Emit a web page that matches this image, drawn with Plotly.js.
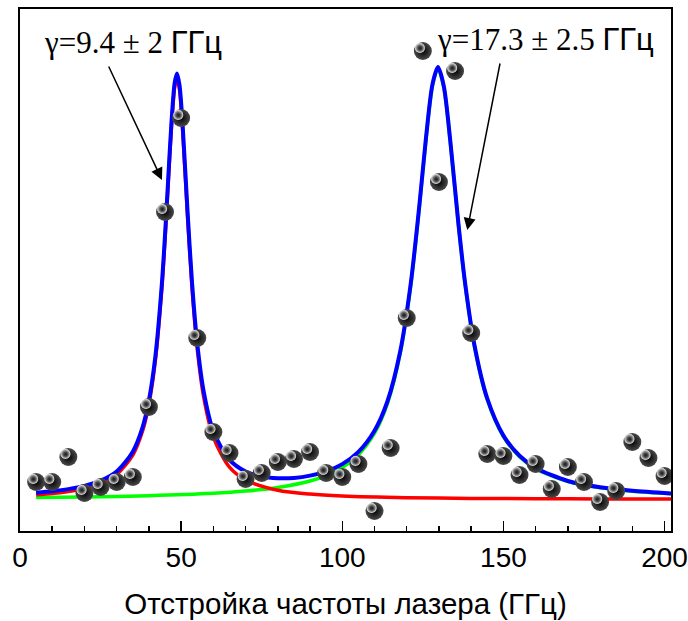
<!DOCTYPE html>
<html>
<head>
<meta charset="utf-8">
<script src="https://cdn.plot.ly/plotly-3.0.1.min.js"></script>
<style>html,body{margin:0;padding:0;background:#fff;}#chart{width:688px;height:621px;}</style>
</head>
<body>
<div id="chart"></div>
<script>
// Measured points (detuning, GHz ; signal, arb. units)
const detuning = [5,10,15,20,25,30,35,40,45,50,55,60,65,70,75,80,85,90,95,100,105,110,115,120,125,130,135,140,145,150,155,160,165,170,175,180,185,190,195,200];
const signal   = [49,49,74,38,44,49,54,124,319,413,193,99,78,52,58,69,72,79,58,54,67,20,83,213,480,349,460,198,77,75,56,67,42,64,49,29,40,89,73,55];

// Fit curve: red (first peak)
const redX = [5,10,15,20,25,30,35,38,40,42,44,45,46,47,48,48.7,49.5,50.5,52,53.4,55,57,60,65,70,80,90,100,120,140,160,180,202];
const redY = [36.3,37.6,39.5,42.5,47.4,56.5,75.9,99.7,126.7,170.5,242.2,291.7,348.4,404.2,443.8,453,441.1,399.1,313.8,242.2,182.2,133.8,93.6,63.9,51.1,40.8,36.9,35,33.3,32.6,32.3,32,31.9];

// Fit curve: green (second peak)
const greenX = [5,20,40,60,70,80,90,95,100,105,110,114,118,121.3,124,126,128,129.7,131.5,133.5,136,138.1,141,145,150,155,160,170,180,190,202];
const greenY = [33.4,34.0,35.3,37.7,39.9,43.5,50,55.4,63.4,76.2,97.8,127.4,178.1,247,326.6,392.5,445.5,462.5,443.6,389.3,307.3,247,184.9,131.3,94.5,74.3,62.3,49.4,43.2,39.7,37.2];

// Fit curve: blue (sum)
const blueX = [5,10,15,20,25,30,35,38,40,42,44,45,46,47,48,48.7,49.5,50.5,52,53.4,55,57,60,65,70,75,80,85,90,95,100,105,110,114,118,121.3,124,126,128,129.7,131.5,133.5,136,138.1,141,145,150,155,160,170,180,190,202];
const blueY = [38.3,39.8,41.9,45.1,50.3,59.5,79.3,103.3,130.5,174.4,246.3,295.9,352.7,408.6,448.3,457.6,445.8,403.9,318.8,247.4,187.6,139.5,99.8,71.1,59.5,54.4,52.8,53.1,55.4,59.7,66.9,79.1,100.3,129.5,180,248.8,328.2,394,446.9,463.9,444.9,390.6,308.5,248.2,186,132.3,95.4,75.2,63.1,50,43.7,40.2,37.6];

const xTickVals = [0,50,100,150,200];
const xTickText = ['0','50','100','150','200'];
const xTitle = 'Отстройка частоты лазера (ГГц)';
const label1 = 'γ=9.4 ± 2 <span style="font-family:Liberation Sans">ГГц</span>';
const label2 = 'γ=17.3 ± 2.5 <span style="font-family:Liberation Sans">ГГц</span>';

const traces = [
  {x: greenX, y: greenY, mode: 'lines', line: {color: '#00ff00', width: 3.5, shape: 'spline', smoothing: 0.8}, hoverinfo: 'skip'},
  {x: redX, y: redY, mode: 'lines', line: {color: '#ff0000', width: 3.5, shape: 'spline', smoothing: 0.8}, hoverinfo: 'skip'},
  {x: blueX, y: blueY, mode: 'lines', line: {color: '#0000ff', width: 4, shape: 'spline', smoothing: 0.8}, hoverinfo: 'skip'},
  {x: detuning, y: signal, mode: 'markers',
   marker: {size: 18, color: '#4a4a4a', gradient: {type: 'radial', color: '#000000'}, line: {width: 0}}},
  {x: detuning, y: signal, mode: 'markers', xaxis: 'x2', yaxis: 'y2',
   marker: {size: 10, color: '#f2f2f2', gradient: {type: 'radial', color: 'rgba(60,60,60,0.0)'}, line: {width: 0}}}
];

const axFont = {family: 'Liberation Sans', size: 28, color: '#000'};
const titleFont = {family: 'Liberation Sans', size: 29.5, color: '#000'};
const serifFont = {family: 'Liberation Serif', size: 31, color: '#000'};

const layout = {
  width: 688, height: 621,
  margin: {l: 20, r: 17, t: 9, b: 90},
  paper_bgcolor: '#fff', plot_bgcolor: '#fff',
  showlegend: false,
  xaxis: {
    range: [0, 202], tickvals: xTickVals, ticktext: xTickText,
    ticks: 'inside', ticklen: 10, tickwidth: 1.5, tickcolor: '#000',
    minor: {dtick: 10, ticks: 'inside', ticklen: 5, tickwidth: 1.5, tickcolor: '#000'},
    showline: true, linecolor: '#000', linewidth: 2, mirror: true,
    showgrid: false, zeroline: false,
    tickfont: axFont,
    title: {text: xTitle, font: titleFont, standoff: 22}
  },
  yaxis: {
    range: [0, 522], showticklabels: false, ticks: '',
    showline: true, linecolor: '#000', linewidth: 2, mirror: true,
    showgrid: false, zeroline: false
  },
  xaxis2: {overlaying: 'x', range: [0.9, 202.9], visible: false},
  yaxis2: {overlaying: 'y', range: [-3, 519], visible: false},
  annotations: [
    {xref: 'paper', yref: 'paper', x: 0.034, y: 0.935, xanchor: 'left', yanchor: 'middle',
     text: label1, showarrow: false, font: serifFont},
    {xref: 'paper', yref: 'paper', x: 0.638, y: 0.941, xanchor: 'left', yanchor: 'middle',
     text: label2, showarrow: false, font: serifFont},
    {xref: 'paper', yref: 'paper', x: 0.2181, y: 0.6724, text: '', showarrow: true,
     arrowhead: 2, arrowsize: 1.6, arrowwidth: 1.5, arrowcolor: '#000', ax: -54, ay: -115},
    {xref: 'paper', yref: 'paper', x: 0.6871, y: 0.5766, text: '', showarrow: true,
     arrowhead: 2, arrowsize: 1.6, arrowwidth: 1.5, arrowcolor: '#000', ax: 33, ay: -168}
  ]
};

Plotly.newPlot('chart', traces, layout, {staticPlot: true, displayModeBar: false});
</script>
</body>
</html>
